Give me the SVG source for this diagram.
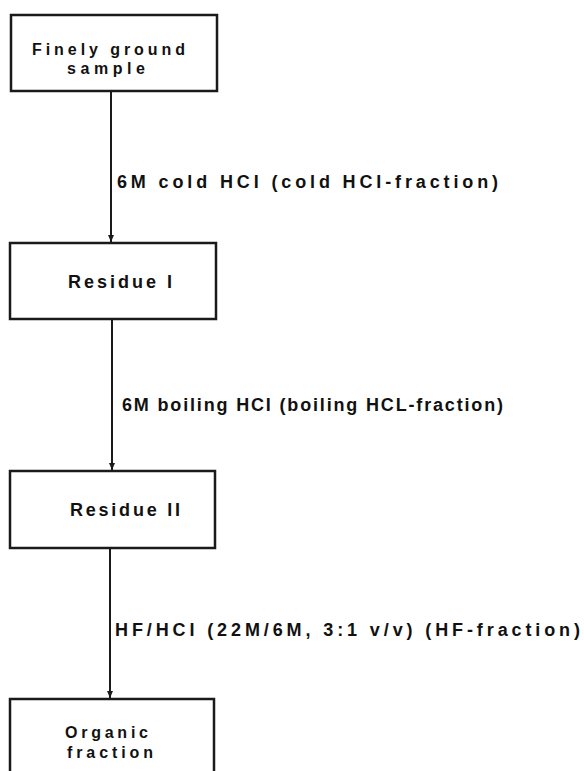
<svg xmlns="http://www.w3.org/2000/svg" width="584" height="771" viewBox="0 0 584 771">
<style>
.box{fill:#fff;stroke:#1a1a1a;stroke-width:2.5}
.t{font-family:"Liberation Sans",Arial,sans-serif;font-weight:bold;font-size:18px;fill:#111}
.s{font-size:16px}
.c{stroke:#1a1a1a;stroke-width:2;fill:none}
</style>
<defs>
<marker id="ah" markerWidth="8" markerHeight="10" refX="7" refY="4" orient="auto" markerUnits="userSpaceOnUse">
<path d="M0,1 L7,4 L0,7 Z" fill="#1a1a1a"/>
</marker>
</defs>
<rect width="584" height="771" fill="#fff"/>
<g id="connectors">
<line class="c" x1="111" y1="92" x2="111" y2="242" marker-end="url(#ah)"/>
<line class="c" x1="112" y1="320" x2="112" y2="470" marker-end="url(#ah)"/>
<line class="c" x1="110" y1="549" x2="110" y2="698" marker-end="url(#ah)"/>
<text class="t" x="117" y="188" textLength="381" lengthAdjust="spacing">6M cold HCI (cold HCI-fraction)</text>
<text class="t" x="122" y="411" textLength="381" lengthAdjust="spacing">6M boiling HCI (boiling HCL-fraction)</text>
<text class="t" x="115" y="636" textLength="465" lengthAdjust="spacing">HF/HCI (22M/6M, 3:1 v/v)  (HF-fraction)</text>
</g>
<g id="sample">
<rect class="box" x="11" y="15" width="206" height="76"/>
<text class="t s" x="32" y="55" textLength="153" lengthAdjust="spacing">Finely ground</text>
<text class="t s" x="67" y="74" textLength="78" lengthAdjust="spacing">sample</text>
</g>
<g id="residue1">
<rect class="box" x="10" y="243" width="206" height="76"/>
<text class="t" x="68" y="288" textLength="104" lengthAdjust="spacing">Residue I</text>
</g>
<g id="residue2">
<rect class="box" x="10" y="471" width="205" height="77"/>
<text class="t" x="70" y="516" textLength="110" lengthAdjust="spacing">Residue II</text>
</g>
<g id="organic">
<rect class="box" x="10" y="699" width="204" height="90"/>
<text class="t s" x="65" y="738" textLength="83" lengthAdjust="spacing">Organic</text>
<text class="t s" x="67" y="758" textLength="86" lengthAdjust="spacing">fraction</text>
</g>
</svg>
